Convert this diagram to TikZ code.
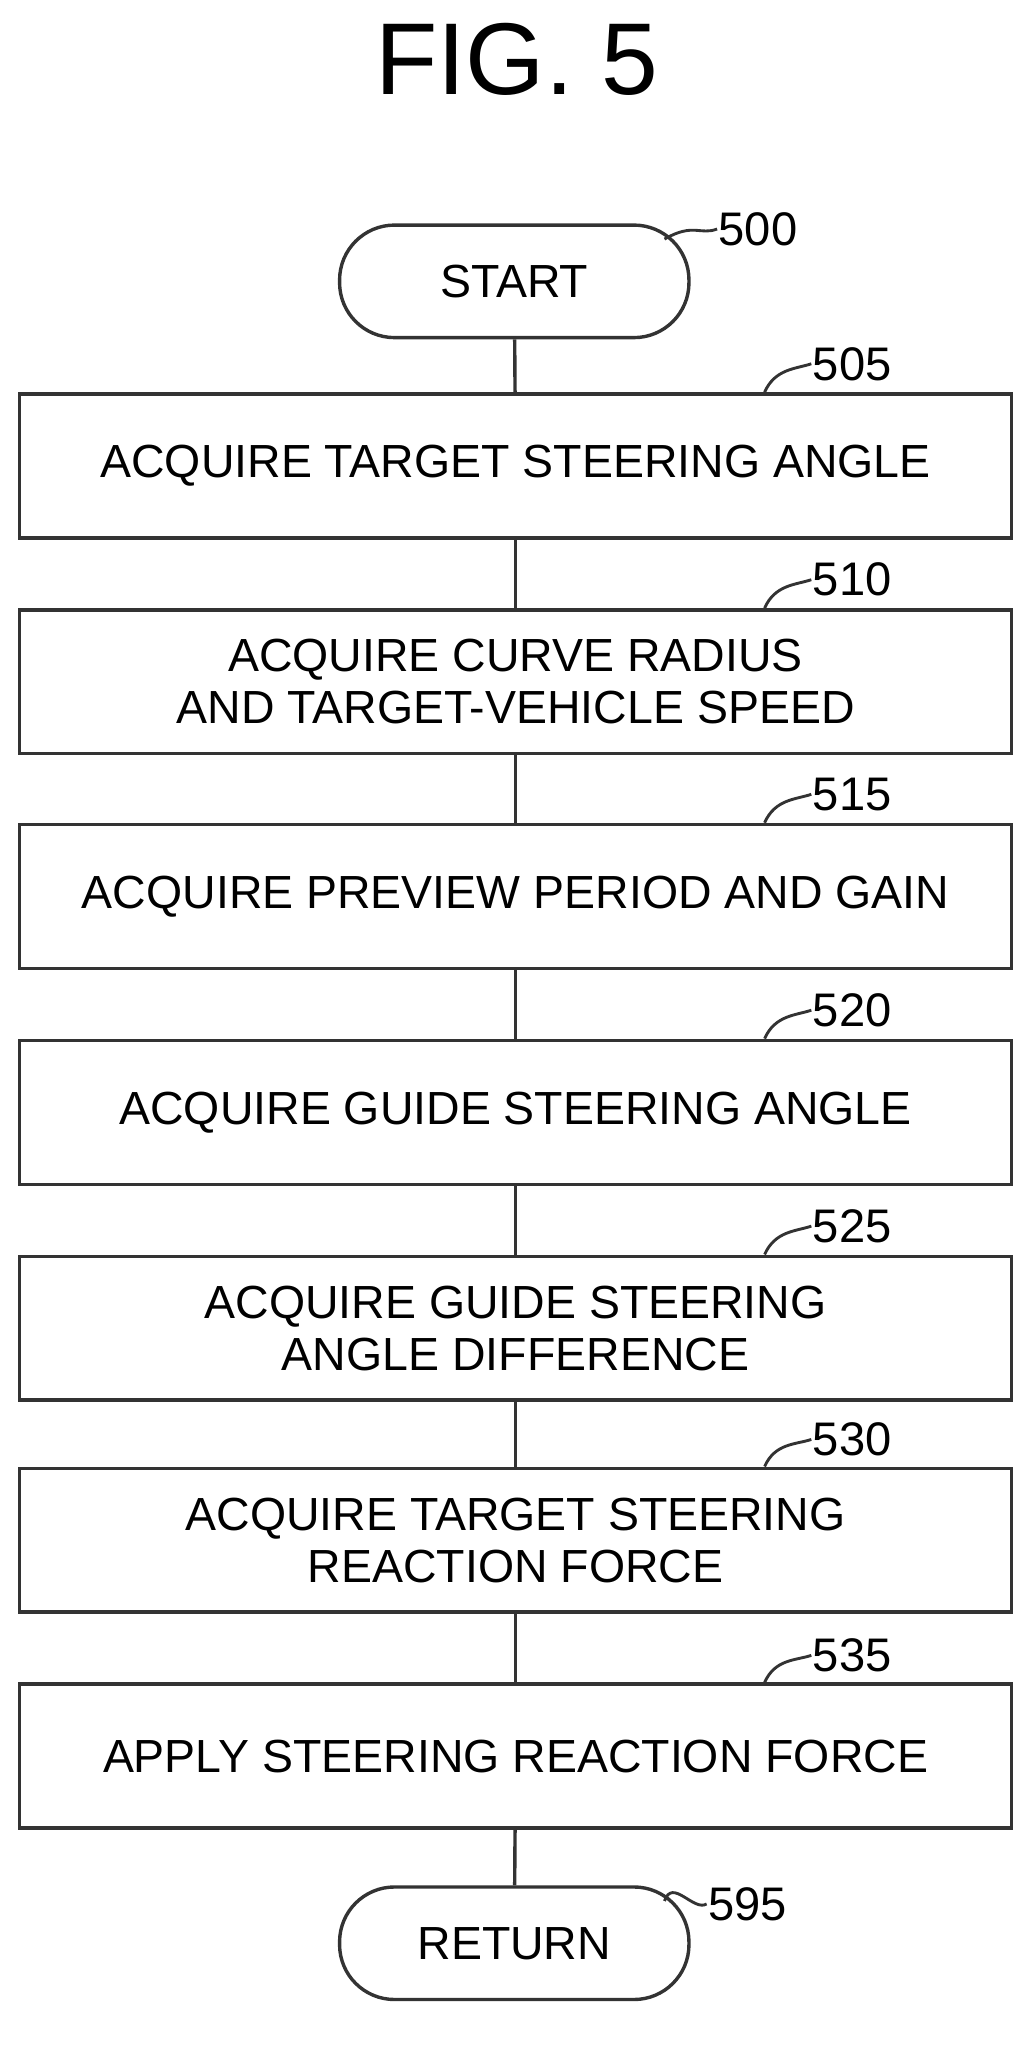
\documentclass[tikz,border=0pt]{standalone}
\usepackage{fontspec}
\setmainfont{Liberation Sans}
\usetikzlibrary{positioning}
\tikzset{
  stepbox/.style={draw=black!80,line width=2.6pt,minimum width=758pt,minimum height=110pt,
    align=center,font=\fontsize{35.5}{40}\selectfont},
  term/.style={draw=black!80,line width=2.6pt,rounded corners=42pt,minimum width=267pt,
    minimum height=86pt,font=\fontsize{35.5}{40}\selectfont},
  tag/.style={font=\fontsize{36}{40}\selectfont,anchor=west,inner sep=1pt},
  link/.style={draw=black!80,line width=2.6pt},
  lead/.style={draw=black!80,line width=2.2pt}
}
\begin{document}
\begin{tikzpicture}[x=1pt,y=-1pt]
\useasboundingbox (0,0) rectangle (790,1575);
\node[font=\fontsize{78}{86}\selectfont] (title) at (395,45) {FIG. 5};

\node[term] (s500) at (393,215) {START};
\node[stepbox] (s505) at (394,356) {ACQUIRE TARGET STEERING ANGLE};
\node[stepbox] (s510) at (394,521) {ACQUIRE CURVE RADIUS\\AND TARGET-VEHICLE SPEED};
\node[stepbox] (s515) at (394,685) {ACQUIRE PREVIEW PERIOD AND GAIN};
\node[stepbox] (s520) at (394,850) {ACQUIRE GUIDE STEERING ANGLE};
\node[stepbox] (s525) at (394,1015) {ACQUIRE GUIDE STEERING\\ANGLE DIFFERENCE};
\node[stepbox] (s530) at (394,1177) {ACQUIRE TARGET STEERING\\REACTION FORCE};
\node[stepbox] (s535) at (394,1342) {APPLY STEERING REACTION FORCE};
\node[term] (s595) at (393,1485) {RETURN};

\foreach \a/\b in {s500/s505,s505/s510,s510/s515,s515/s520,s520/s525,s525/s530,s530/s535,s535/s595}
  \draw[link] (\a) -- (\b);

% step numbers
\node[tag] (n500) at (548,175) {500};
\draw[lead] (s500.north east) ++(-20,12) coordinate (c500) .. controls (530,170) and (535,180) .. (n500.west);
\foreach \n/\y in {505/278,510/443,515/607,520/772,525/937,530/1100,535/1265}
  \node[tag] (n\n) at (620,\y) {\n};
\foreach \n in {505,510,515,520,525,530,535}
  \draw[lead] ([xshift=-190pt]s\n.north east) .. controls +(8,-18) and +(-12,4) .. (n\n.west);
\node[tag] (n595) at (540,1455) {595};
\draw[lead] ([xshift=-20pt,yshift=-12pt]s595.north east) .. controls +(6,-18) and +(-10,6) .. (n595.west);
\end{tikzpicture}
\end{document}
